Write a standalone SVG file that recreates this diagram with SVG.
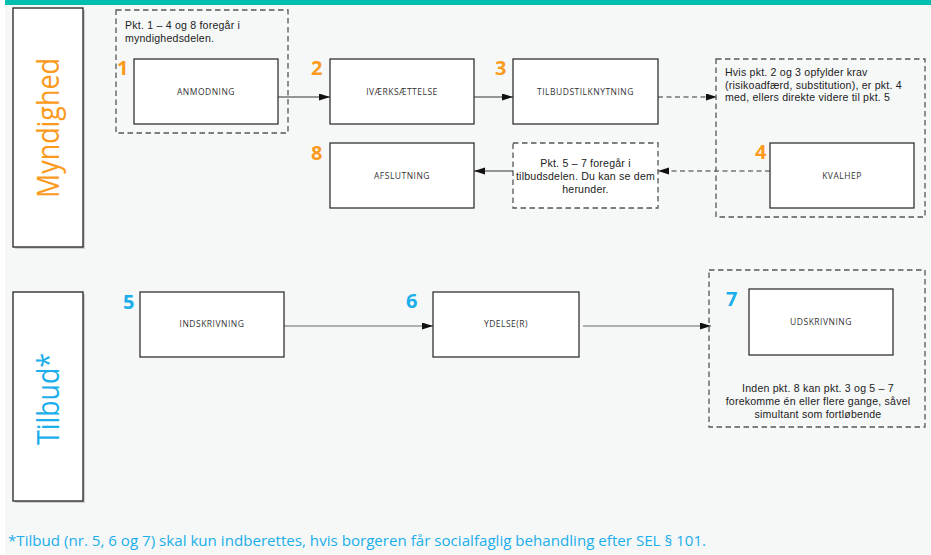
<svg xmlns="http://www.w3.org/2000/svg" width="931" height="555" viewBox="0 0 931 555">
<style>
.box{fill:#ffffff;stroke:#222222;stroke-width:1.2}
.dbox{fill:none;stroke:#555555;stroke-width:1.3;stroke-dasharray:5.5 3.5}
.lbl{font-family:"Open Sans","Liberation Sans",sans-serif;font-size:8.5px;fill:#333333;text-anchor:middle;letter-spacing:0.5px}
.note{font-family:"Liberation Sans",Arial,sans-serif;font-size:10.6px;fill:#222222;letter-spacing:0.2px}
.num{font-family:"Open Sans","Liberation Sans",sans-serif;font-size:20px;font-weight:bold}
.or{fill:#fb9a1c}
.bl{fill:#1aaeea}
.con{fill:none;stroke:#333333;stroke-width:1.1}
.dash{stroke-dasharray:5 3.5;stroke:#333333}
.gray{stroke:#666666}
.lane{fill:#ffffff;stroke:#222222;stroke-width:1.3}
</style>
<defs>
<marker id="ah" markerUnits="userSpaceOnUse" markerWidth="12" markerHeight="8" refX="11" refY="3.5" orient="auto">
<path d="M0,0 L11,3.5 L0,7 Z" fill="#111111"/>
</marker>
</defs>
<rect x="0" y="0" width="931" height="555" fill="#ffffff"/>
<rect x="5" y="0" width="926" height="555" fill="#f6f8f8"/>
<rect x="5" y="0" width="926" height="5" fill="#00bfae"/>

<g id="lane-myndighed">
<rect x="15" y="10" width="70" height="239" fill="#cfcfcf"/>
<rect class="lane" x="13" y="8" width="70" height="239"/>
<text transform="translate(59,198) rotate(-90)" font-family="'Open Sans','Liberation Sans',sans-serif" font-size="31" fill="#fb9a1c" textLength="140" lengthAdjust="spacingAndGlyphs">Myndighed</text>
</g>
<g id="lane-tilbud">
<rect x="15" y="294" width="70" height="209" fill="#cfcfcf"/>
<rect class="lane" x="13" y="292" width="70" height="209"/>
<text transform="translate(59,445) rotate(-90)" font-family="'Open Sans','Liberation Sans',sans-serif" font-size="31" fill="#1aaeea" textLength="92" lengthAdjust="spacingAndGlyphs">Tilbud*</text>
</g>

<g id="connectors">
<line class="con" x1="278" y1="97" x2="330" y2="97" marker-end="url(#ah)"/>
<line class="con" x1="474" y1="97" x2="513" y2="97" marker-end="url(#ah)"/>
<line class="con dash" x1="658" y1="97" x2="717" y2="97" marker-end="url(#ah)"/>
<line class="con dash" x1="770" y1="171" x2="658" y2="171" marker-end="url(#ah)"/>
<line class="con" x1="513" y1="171" x2="474" y2="171" marker-end="url(#ah)"/>
<line class="con gray" x1="284" y1="326" x2="433" y2="326" marker-end="url(#ah)"/>
<line class="con gray" x1="583" y1="326" x2="711" y2="326" marker-end="url(#ah)"/>
</g>

<g id="group-1">
<rect class="dbox" x="116" y="10" width="172" height="123"/>
<text class="note" x="125" y="29">Pkt. 1 – 4 og 8 foregår i</text>
<text class="note" x="125" y="41.5">myndighedsdelen.</text>
</g>
<g id="node-1">
<rect class="box" x="134" y="59" width="144" height="65"/>
<text class="lbl" x="206" y="95">ANMODNING</text>
<text class="num or" x="117" y="75">1</text>
</g>
<g id="node-2">
<rect class="box" x="330" y="59" width="144" height="65"/>
<text class="lbl" x="402" y="95">IVÆRKSÆTTELSE</text>
<text class="num or" x="311" y="75">2</text>
</g>
<g id="node-3">
<rect class="box" x="513" y="59" width="145" height="65"/>
<text class="lbl" x="585.5" y="95">TILBUDSTILKNYTNING</text>
<text class="num or" x="495" y="75">3</text>
</g>
<g id="group-4">
<rect class="dbox" x="716" y="59" width="209" height="158"/>
<text class="note" x="725" y="76">Hvis pkt. 2 og 3 opfylder krav</text>
<text class="note" x="725" y="88.5">(risikoadfærd, substitution), er pkt. 4</text>
<text class="note" x="725" y="101">med, ellers direkte videre til pkt. 5</text>
</g>
<g id="node-4">
<rect class="box" x="770" y="143" width="144" height="65"/>
<text class="lbl" x="842" y="179">KVALHEP</text>
<text class="num or" x="755" y="159">4</text>
</g>
<g id="note-tilbud">
<rect class="dbox" x="513" y="143" width="145" height="65" style="fill:#ffffff"/>
<text class="note" x="585.5" y="167" text-anchor="middle">Pkt. 5 – 7 foregår i</text>
<text class="note" x="585.5" y="180" text-anchor="middle">tilbudsdelen. Du kan se dem</text>
<text class="note" x="585.5" y="193" text-anchor="middle">herunder.</text>
</g>
<g id="node-8">
<rect class="box" x="330" y="143" width="144" height="65"/>
<text class="lbl" x="402" y="179">AFSLUTNING</text>
<text class="num or" x="311" y="160">8</text>
</g>

<g id="node-5">
<rect class="box" x="140" y="292" width="144" height="65"/>
<text class="lbl" x="212" y="327">INDSKRIVNING</text>
<text class="num bl" x="123" y="309">5</text>
</g>
<g id="node-6">
<rect class="box" x="433" y="292" width="146" height="65"/>
<text class="lbl" x="506" y="327">YDELSE(R)</text>
<text class="num bl" x="406" y="308">6</text>
</g>
<g id="group-7">
<rect class="dbox" x="709" y="270" width="216" height="157"/>
<text class="note" x="818" y="392" text-anchor="middle">Inden pkt. 8 kan pkt. 3 og 5 – 7</text>
<text class="note" x="818" y="405" text-anchor="middle">forekomme én eller flere gange, såvel</text>
<text class="note" x="818" y="418" text-anchor="middle">simultant som fortløbende</text>
</g>
<g id="node-7">
<rect class="box" x="749" y="289" width="144" height="66"/>
<text class="lbl" x="821" y="325">UDSKRIVNING</text>
<text class="num bl" x="726" y="306">7</text>
</g>

<text x="8" y="546" font-family="'Open Sans','Liberation Sans',sans-serif" font-size="14" fill="#1aaeea" textLength="698" lengthAdjust="spacingAndGlyphs">*Tilbud (nr. 5, 6 og 7) skal kun indberettes, hvis borgeren får socialfaglig behandling efter SEL § 101.</text>
</svg>
